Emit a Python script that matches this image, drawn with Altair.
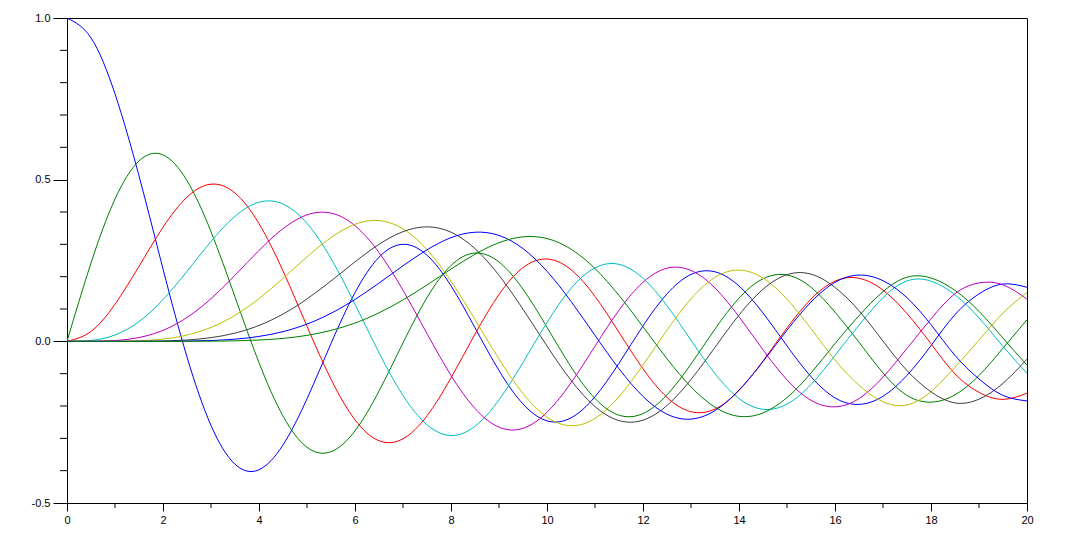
import altair as alt
import pandas as pd

# x sample positions (0 to 20, step 0.5)
xs = [i * 0.5 for i in range(41)]

J0 = [1.0, 0.9385, 0.7652, 0.5118, 0.2239, -0.0484, -0.2601, -0.3801, -0.3971, -0.3205,
      -0.1776, -0.0068, 0.1506, 0.2601, 0.3001, 0.2663, 0.1717, 0.0419, -0.0903, -0.1939,
      -0.2459, -0.2366, -0.1712, -0.0677, 0.0477, 0.1469, 0.2069, 0.2150, 0.1711, 0.0875,
      -0.0142, -0.1092, -0.1749, -0.1950, -0.1699, -0.1051, -0.0134, 0.0828, 0.1466, 0.1773,
      0.1670]
J1 = [0.0, 0.2423, 0.4401, 0.5579, 0.5767, 0.4971, 0.3391, 0.1374, -0.0660, -0.2311,
      -0.3276, -0.3414, -0.2767, -0.1538, -0.0047, 0.1352, 0.2346, 0.2731, 0.2453, 0.1613,
      0.0435, -0.0789, -0.1768, -0.2284, -0.2234, -0.1655, -0.0703, 0.0380, 0.1334, 0.1934,
      0.2051, 0.1672, 0.0904, -0.0028, -0.0977, -0.1672, -0.1880, -0.1655, -0.1057, -0.0211,
      0.0668]
J2 = [0.0, 0.0306, 0.1149, 0.2321, 0.3528, 0.4461, 0.4861, 0.4586, 0.3641, 0.2178,
      0.0466, -0.1173, -0.2429, -0.3074, -0.3014, -0.2303, -0.1130, 0.0223, 0.1448, 0.2279,
      0.2546, 0.2216, 0.1390, 0.0279, -0.0849, -0.1734, -0.2177, -0.2094, -0.1520, -0.0609,
      0.0416, 0.1307, 0.1862, 0.1950, 0.1584, 0.0860, -0.0075, -0.1007, -0.1578, -0.1795,
      -0.1603]
J3 = [0.0, 0.0026, 0.0196, 0.0610, 0.1289, 0.2166, 0.3091, 0.3868, 0.4302, 0.4247,
      0.3648, 0.2561, 0.1148, -0.0354, -0.1676, -0.2580, -0.2911, -0.2626, -0.1809, -0.0653,
      0.0584, 0.1633, 0.2273, 0.2381, 0.1951, 0.1100, 0.0033, -0.1000, -0.1768, -0.2102,
      -0.1940, -0.1335, -0.0438, 0.0501, 0.1349, 0.1869, 0.1863, 0.1437, 0.0725, -0.0157,
      -0.0989]
J4 = [0.0, 0.0002, 0.0025, 0.0118, 0.0340, 0.0738, 0.1320, 0.2044, 0.2811, 0.3485,
      0.3912, 0.3967, 0.3576, 0.2747, 0.1578, 0.0239, -0.1054, -0.2077, -0.2655, -0.2691,
      -0.2196, -0.1283, -0.0150, 0.0963, 0.1825, 0.2262, 0.2193, 0.1650, 0.0762, -0.0261,
      -0.1192, -0.1824, -0.2026, -0.1771, -0.1107, -0.0219, 0.0696, 0.1473, 0.1806, 0.1747,
      0.1307]
J5 = [0.0, 0.0, 0.0002, 0.0018, 0.0070, 0.0195, 0.0430, 0.0804, 0.1321, 0.1948,
      0.2611, 0.3209, 0.3621, 0.3735, 0.3479, 0.2835, 0.1858, 0.0671, -0.0550, -0.1613,
      -0.2341, -0.2611, -0.2383, -0.1711, -0.0735, 0.0348, 0.1316, 0.1978, 0.2204, 0.1958,
      0.1305, 0.0394, -0.0575, -0.1360, -0.1870, -0.1969, -0.1554, -0.0800, 0.0036, 0.0874,
      0.1512]
J6 = [0.0, 0.0, 0.0, 0.0002, 0.0012, 0.0042, 0.0114, 0.0254, 0.0491, 0.0843,
      0.1310, 0.1868, 0.2458, 0.2999, 0.3392, 0.3541, 0.3376, 0.2866, 0.2043, 0.0993,
      -0.0145, -0.1204, -0.2016, -0.2451, -0.2437, -0.1984, -0.1180, -0.0185, 0.0812, 0.1611,
      0.2061, 0.2078, 0.1667, 0.0947, 0.0007, -0.0906, -0.1560, -0.1905, -0.1788, -0.1299,
      -0.0551]
J7 = [0.0, 0.0, 0.0, 0.0, 0.0002, 0.0008, 0.0025, 0.0067, 0.0152, 0.0300,
      0.0534, 0.0867, 0.1296, 0.1802, 0.2336, 0.2831, 0.3206, 0.3375, 0.3275, 0.2867,
      0.2167, 0.1235, 0.0184, -0.0847, -0.1703, -0.2253, -0.2405, -0.2142, -0.1508, -0.0625,
      0.0345, 0.1215, 0.1825, 0.2049, 0.1875, 0.1348, 0.0514, -0.0436, -0.1165, -0.1673,
      -0.1842]
J8 = [0.0, 0.0, 0.0, 0.0, 0.0, 0.0001, 0.0005, 0.0015, 0.0040, 0.0091,
      0.0184, 0.0339, 0.0565, 0.0882, 0.1280, 0.1744, 0.2235, 0.2693, 0.3051, 0.3232,
      0.3179, 0.2851, 0.2250, 0.1420, 0.0451, -0.0539, -0.1410, -0.2036, -0.2320, -0.2214,
      -0.1740, -0.0981, -0.0070, 0.0792, 0.1537, 0.1984, 0.1959, 0.1575, 0.0929, 0.0098,
      -0.0739]

series_names = ["J0", "J1", "J2", "J3", "J4", "J5", "J6", "J7", "J8"]
series_values = [J0, J1, J2, J3, J4, J5, J6, J7, J8]
series_colors = ["#0000FF", "#008000", "#FF0000", "#00BFBF", "#BF00BF",
                 "#BFBF00", "#404040", "#0000FF", "#008000"]

x_major = [0, 2, 4, 6, 8, 10, 12, 14, 16, 18, 20]
x_minor = [1, 3, 5, 7, 9, 11, 13, 15, 17, 19]
y_major = [-0.5, 0.0, 0.5, 1.0]
y_minor = [-0.4, -0.3, -0.2, -0.1, 0.1, 0.2, 0.3, 0.4, 0.6, 0.7, 0.8, 0.9]

rows = []
for name, vals in zip(series_names, series_values):
    for x, v in zip(xs, vals):
        rows.append({"x": x, "y": v, "s": name})
df = pd.DataFrame(rows)

W, H = 960, 485
FONT = "Liberation Sans"

xscale = alt.Scale(domain=[0, 20], nice=False, zero=False)
yscale = alt.Scale(domain=[-0.5, 1.0], nice=False, zero=False)

lines = alt.Chart(df).mark_line(strokeWidth=1, interpolate="natural", clip=True).encode(
    x=alt.X("x:Q", scale=xscale,
            axis=alt.Axis(values=x_major, title=None, tickSize=8, labelPadding=3,
                          format="d", grid=False, domainColor="black", tickColor="black",
                          labelColor="black", labelFont=FONT, labelFontSize=11,
                          labelFlush=False, labelOverlap=False,
                          domainWidth=1, tickWidth=1)),
    y=alt.Y("y:Q", scale=yscale,
            axis=alt.Axis(values=y_major, title=None, tickSize=14, labelPadding=3,
                          labelExpr="datum.value < 0 ? '-' + format(-datum.value, '.1f') : format(datum.value, '.1f')",
                          grid=False, domainColor="black", tickColor="black",
                          labelColor="black", labelFont=FONT, labelFontSize=11,
                          labelFlush=False, labelOverlap=False,
                          domainWidth=1, tickWidth=1)),
    color=alt.Color("s:N", scale=alt.Scale(domain=series_names, range=series_colors), legend=None),
    detail="s:N",
)

xminor_df = pd.DataFrame({"x": x_minor})
yminor_df = pd.DataFrame({"y": y_minor})

xminor = alt.Chart(xminor_df).mark_rule(color="black", strokeWidth=1).encode(
    x=alt.X("x:Q", scale=xscale),
    y=alt.value(H),
    y2=alt.value(H + 5),
)
yminor = alt.Chart(yminor_df).mark_rule(color="black", strokeWidth=1).encode(
    y=alt.Y("y:Q", scale=yscale),
    x=alt.value(0),
    x2=alt.value(-7),
)

chart = alt.layer(lines, xminor, yminor).properties(
    width=W, height=H,
    autosize=alt.AutoSizeParams(type="none"),
    padding={"left": 59, "top": 10, "right": 10, "bottom": 30},
    background="white",
).configure_view(stroke="black", strokeWidth=1)

chart.save("out.html", embed_options={"renderer": "svg", "actions": False})
